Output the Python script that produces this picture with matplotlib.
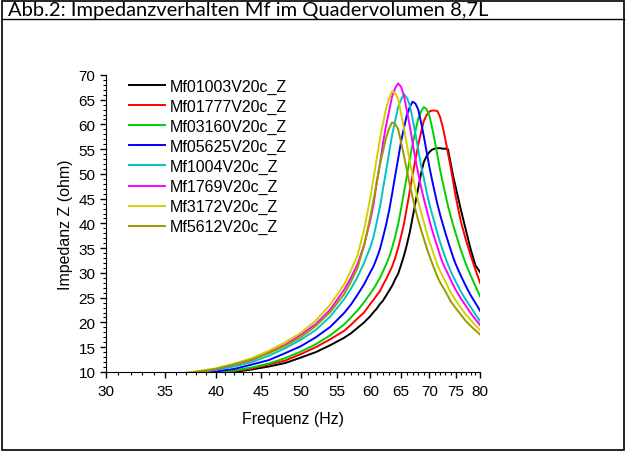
import matplotlib
matplotlib.use("Agg")
import matplotlib.pyplot as plt
from matplotlib.ticker import FixedLocator, NullFormatter, FixedFormatter, MultipleLocator
from matplotlib.patches import Rectangle
from matplotlib.lines import Line2D

# frequency grid (Hz), finer around the resonance peaks
freq = [36, 38, 40, 42, 44, 46, 48, 50, 52, 54, 56, 57, 58, 59,
        60, 60.5, 61, 61.5, 62, 62.5, 63, 63.5, 64, 64.5, 65, 65.5, 66, 66.5,
        67, 67.5, 68, 68.5, 69, 69.5, 70, 70.5, 71, 71.5, 72, 72.5, 73, 73.5,
        74, 74.5, 75, 76, 77, 78, 79, 80]

# impedance readings (ohm)
z_01003 = [9.1, 9.4, 9.7, 10.0, 10.5, 11.1, 11.8, 12.9, 14.0, 15.4, 16.9, 17.8, 18.9, 20.0,
           21.3, 22.1, 22.8, 23.7, 24.4, 25.4, 26.4, 27.4, 28.7, 29.8, 31.6, 33.5, 35.7, 38.2,
           41.2, 44.2, 47.2, 50.1, 52.4, 53.6, 54.4, 54.9, 55.1, 55.2, 55.2, 55.1, 55.1, 55.0,
           52.3, 49.6, 47.4, 42.9, 38.8, 34.8, 31.5, 30.1]
z_01777 = [9.0, 9.4, 9.8, 10.2, 10.7, 11.5, 12.3, 13.6, 15.0, 16.6, 18.3, 19.5, 20.8, 22.0,
           23.8, 24.6, 25.5, 26.3, 27.6, 28.7, 30.0, 31.3, 33.0, 35.0, 37.4, 39.9, 43.2, 46.5,
           49.8, 52.9, 55.9, 58.4, 60.7, 61.9, 62.6, 62.8, 62.8, 62.7, 61.5, 59.5, 57.0, 54.2,
           51.5, 48.5, 45.5, 40.5, 36.8, 33.6, 30.6, 27.9]
z_03160 = [9.1, 9.5, 9.9, 10.3, 10.9, 11.7, 12.8, 14.1, 15.6, 17.4, 19.6, 21.0, 22.4, 24.1,
           25.9, 26.8, 27.9, 29.0, 30.3, 31.7, 33.2, 35.1, 37.3, 39.8, 42.9, 46.3, 49.6, 53.0,
           56.0, 58.7, 61.2, 62.6, 63.5, 63.1, 61.8, 59.4, 56.7, 53.8, 50.8, 48.3, 45.9, 43.6,
           41.6, 39.7, 38.0, 34.7, 31.9, 29.5, 27.3, 25.2]
z_05625 = [9.3, 9.7, 10.1, 10.6, 11.5, 12.4, 13.8, 15.2, 17.0, 19.1, 21.9, 23.6, 25.6, 27.7,
           30.2, 31.4, 33.0, 34.8, 37.2, 39.7, 42.6, 46.0, 49.6, 53.0, 56.5, 59.3, 61.9, 63.5,
           64.6, 64.2, 63.0, 60.4, 57.6, 54.5, 51.5, 48.8, 46.3, 43.9, 41.8, 39.9, 38.1, 36.4,
           34.8, 33.2, 31.8, 29.5, 27.4, 25.5, 23.9, 22.3]
z_1004 = [9.5, 9.9, 10.4, 11.1, 12.0, 13.3, 14.8, 16.5, 18.5, 21.2, 24.7, 26.8, 29.2, 32.0,
          35.3, 37.4, 40.3, 43.3, 47.0, 50.6, 54.3, 57.9, 60.7, 63.5, 65.0, 66.1, 65.4, 63.9,
          61.1, 58.1, 54.9, 51.7, 49.1, 46.4, 44.0, 41.9, 40.0, 38.0, 36.2, 34.6, 33.1, 31.7,
          30.4, 29.3, 28.3, 26.3, 24.6, 23.1, 21.6, 20.2]
z_1769 = [9.6, 10.0, 10.5, 11.5, 12.4, 14.0, 15.5, 17.5, 19.7, 22.6, 26.6, 29.0, 31.8, 35.6,
          40.8, 44.0, 48.3, 52.0, 56.2, 59.8, 62.7, 65.7, 67.3, 68.3, 67.6, 65.8, 62.8, 59.7,
          56.3, 52.9, 50.1, 47.3, 45.0, 42.8, 40.7, 38.7, 36.9, 35.3, 33.5, 32.0, 30.9, 29.8,
          28.7, 27.6, 26.6, 24.9, 23.4, 21.9, 20.6, 19.4]
z_3172 = [9.5, 10.1, 10.7, 11.7, 12.8, 14.3, 16.0, 17.9, 20.4, 23.6, 27.7, 30.5, 33.6, 38.7,
          45.4, 49.3, 53.2, 57.1, 60.2, 63.2, 65.3, 66.7, 66.3, 65.2, 62.2, 59.2, 55.8, 52.5,
          49.7, 46.9, 44.4, 42.3, 40.3, 38.2, 36.4, 34.8, 33.2, 31.6, 30.4, 29.3, 28.3, 27.2,
          26.1, 25.3, 24.5, 23.0, 21.6, 20.5, 19.4, 18.4]
z_5612 = [9.5, 10.0, 10.6, 11.5, 12.5, 13.8, 15.3, 17.0, 19.3, 22.1, 25.7, 28.2, 31.0, 35.5,
          41.5, 44.9, 48.4, 51.9, 54.6, 57.3, 59.2, 60.4, 60.1, 59.1, 56.4, 53.7, 50.7, 47.8,
          45.3, 42.8, 40.6, 38.7, 36.9, 35.1, 33.5, 32.0, 30.6, 29.2, 28.1, 27.2, 26.3, 25.3,
          24.3, 23.6, 22.9, 21.6, 20.3, 19.3, 18.4, 17.5]

series = [z_01003, z_01777, z_03160, z_05625, z_1004, z_1769, z_3172, z_5612]
labels = ["Mf01003V20c_Z", "Mf01777V20c_Z", "Mf03160V20c_Z", "Mf05625V20c_Z",
          "Mf1004V20c_Z", "Mf1769V20c_Z", "Mf3172V20c_Z", "Mf5612V20c_Z"]
colors = ["#000000", "#ff0000", "#00d000", "#0000ff",
          "#00c4c4", "#ff00ff", "#d2d200", "#9a9a00"]

x_ticks = [30, 35, 40, 45, 50, 55, 60, 65, 70, 75, 80]

plt.rcParams["font.family"] = ["Liberation Sans", "DejaVu Sans"]

fig = plt.figure(figsize=(6.27, 4.52), dpi=100)

# outer frame and title row
fig.add_artist(Rectangle((0.003, 0.002), 0.993, 0.994, transform=fig.transFigure,
                         fill=False, edgecolor="black", linewidth=1.2))
fig.add_artist(Line2D([0.003, 0.996], [0.956, 0.956], transform=fig.transFigure,
                      color="black", linewidth=1.0))
fig.text(0.013, 0.976, "Abb.2: Impedanzverhalten Mf im Quadervolumen 8,7L",
         fontsize=14.5, family=["Lato", "DejaVu Sans"], va="center", ha="left")

ax = fig.add_axes([0.169, 0.175, 0.597, 0.657])
for z, lab, c in zip(series, labels, colors):
    ax.plot(freq, z, color=c, linewidth=1.4, label=lab)

ax.set_xscale("log")
ax.set_xlim(30, 80)
ax.set_ylim(10, 70)
ax.xaxis.set_major_locator(FixedLocator(x_ticks))
ax.xaxis.set_major_formatter(FixedFormatter([str(t) for t in x_ticks]))
ax.xaxis.set_minor_locator(FixedLocator(list(range(30, 81))))
ax.xaxis.set_minor_formatter(NullFormatter())
ax.yaxis.set_major_locator(MultipleLocator(5))
ax.yaxis.set_minor_locator(MultipleLocator(1))

ax.spines["top"].set_visible(False)
ax.spines["right"].set_visible(False)
ax.tick_params(which="major", direction="out", length=4, width=1, labelsize=11)
ax.tick_params(axis="x", which="major", pad=5)
ax.tick_params(which="minor", direction="out", length=2.2, width=0.8)

ax.set_xlabel("Frequenz (Hz)", fontsize=11.5, labelpad=9)
ax.set_ylabel("Impedanz Z (ohm)", fontsize=11.5, labelpad=4)

ax.legend(loc="upper left", bbox_to_anchor=(0.045, 1.009), frameon=False,
          fontsize=11.5, handlelength=2.25, handletextpad=0.3, labelspacing=0.31,
          borderaxespad=0)

fig.savefig("out.png", dpi=100)
